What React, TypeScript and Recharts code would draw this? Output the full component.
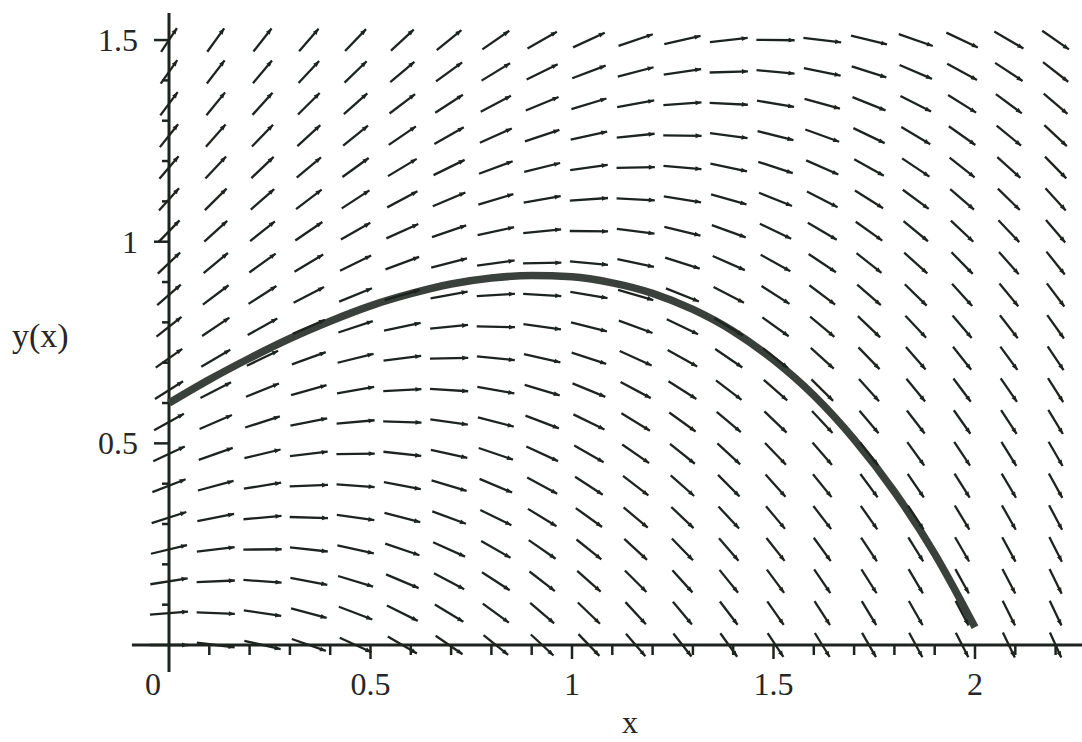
import React from "react"
import { ComposedChart, Line, Scatter, XAxis, YAxis, ReferenceLine } from "recharts"

// direction field grid (x columns, y rows)
const fieldX = [0, 0.116, 0.232, 0.347, 0.463, 0.579, 0.695, 0.811, 0.926, 1.042, 1.158, 1.274, 1.389, 1.505, 1.621, 1.737, 1.853, 1.968, 2.084, 2.2]
const fieldY = [0, 0.079, 0.158, 0.237, 0.316, 0.395, 0.474, 0.553, 0.632, 0.711, 0.789, 0.868, 0.947, 1.026, 1.105, 1.184, 1.263, 1.342, 1.421, 1.5]

// slope of each arrow, one row per fieldY value
const fieldSlopes = [
  [0, -0.12, -0.23, -0.35, -0.46, -0.58, -0.69, -0.81, -0.93, -1.04, -1.16, -1.27, -1.39, -1.51, -1.62, -1.74, -1.85, -1.97, -2.08, -2.2],
  [0.08, -0.04, -0.15, -0.27, -0.38, -0.5, -0.61, -0.73, -0.85, -0.96, -1.08, -1.19, -1.31, -1.43, -1.54, -1.66, -1.77, -1.89, -2.0, -2.12],
  [0.16, 0.04, -0.07, -0.19, -0.3, -0.42, -0.53, -0.65, -0.77, -0.88, -1.0, -1.11, -1.23, -1.35, -1.46, -1.58, -1.69, -1.81, -1.92, -2.04],
  [0.24, 0.12, 0.01, -0.11, -0.22, -0.34, -0.45, -0.57, -0.69, -0.8, -0.92, -1.03, -1.15, -1.27, -1.38, -1.5, -1.61, -1.73, -1.84, -1.96],
  [0.32, 0.2, 0.09, -0.03, -0.14, -0.26, -0.37, -0.49, -0.61, -0.72, -0.84, -0.95, -1.07, -1.19, -1.3, -1.42, -1.53, -1.65, -1.76, -1.88],
  [0.39, 0.27, 0.16, 0.04, -0.07, -0.19, -0.3, -0.42, -0.54, -0.65, -0.77, -0.88, -1.0, -1.12, -1.23, -1.35, -1.46, -1.58, -1.69, -1.81],
  [0.47, 0.35, 0.24, 0.12, 0.01, -0.11, -0.22, -0.34, -0.46, -0.57, -0.69, -0.8, -0.92, -1.04, -1.15, -1.27, -1.38, -1.5, -1.61, -1.73],
  [0.55, 0.43, 0.32, 0.2, 0.09, -0.03, -0.14, -0.26, -0.38, -0.49, -0.61, -0.72, -0.84, -0.96, -1.07, -1.19, -1.3, -1.42, -1.53, -1.65],
  [0.63, 0.51, 0.4, 0.28, 0.17, 0.05, -0.06, -0.18, -0.3, -0.41, -0.53, -0.64, -0.76, -0.88, -0.99, -1.11, -1.22, -1.34, -1.45, -1.57],
  [0.71, 0.59, 0.48, 0.36, 0.25, 0.13, 0.02, -0.1, -0.22, -0.33, -0.45, -0.56, -0.68, -0.8, -0.91, -1.03, -1.14, -1.26, -1.37, -1.49],
  [0.79, 0.67, 0.56, 0.44, 0.33, 0.21, 0.1, -0.02, -0.14, -0.25, -0.37, -0.48, -0.6, -0.72, -0.83, -0.95, -1.06, -1.18, -1.29, -1.41],
  [0.87, 0.75, 0.64, 0.52, 0.41, 0.29, 0.18, 0.06, -0.06, -0.17, -0.29, -0.4, -0.52, -0.64, -0.75, -0.87, -0.98, -1.1, -1.21, -1.33],
  [0.95, 0.83, 0.72, 0.6, 0.49, 0.37, 0.26, 0.14, 0.02, -0.09, -0.21, -0.32, -0.44, -0.56, -0.67, -0.79, -0.9, -1.02, -1.13, -1.25],
  [1.03, 0.91, 0.8, 0.68, 0.57, 0.45, 0.34, 0.22, 0.1, -0.01, -0.13, -0.24, -0.36, -0.48, -0.59, -0.71, -0.82, -0.94, -1.05, -1.17],
  [1.11, 0.99, 0.88, 0.76, 0.65, 0.53, 0.42, 0.3, 0.18, 0.07, -0.05, -0.16, -0.28, -0.4, -0.51, -0.63, -0.74, -0.86, -0.97, -1.09],
  [1.18, 1.06, 0.95, 0.83, 0.72, 0.6, 0.49, 0.37, 0.25, 0.14, 0.02, -0.09, -0.21, -0.33, -0.44, -0.56, -0.67, -0.79, -0.9, -1.02],
  [1.26, 1.14, 1.03, 0.91, 0.8, 0.68, 0.57, 0.45, 0.33, 0.22, 0.1, -0.01, -0.13, -0.25, -0.36, -0.48, -0.59, -0.71, -0.82, -0.94],
  [1.34, 1.22, 1.11, 0.99, 0.88, 0.76, 0.65, 0.53, 0.41, 0.3, 0.18, 0.07, -0.05, -0.17, -0.28, -0.4, -0.51, -0.63, -0.74, -0.86],
  [1.42, 1.3, 1.19, 1.07, 0.96, 0.84, 0.73, 0.61, 0.49, 0.38, 0.26, 0.15, 0.03, -0.09, -0.2, -0.32, -0.43, -0.55, -0.66, -0.78],
  [1.5, 1.38, 1.27, 1.15, 1.04, 0.92, 0.81, 0.69, 0.57, 0.46, 0.34, 0.23, 0.11, -0.01, -0.12, -0.24, -0.35, -0.47, -0.58, -0.7],
]

// solution curve y(x)
const curveX = [0, 0.1, 0.2, 0.3, 0.4, 0.5, 0.6, 0.7, 0.8, 0.9, 1.0, 1.1, 1.2, 1.3, 1.4, 1.5, 1.6, 1.7, 1.8, 1.9, 2.0]
const curveY = [0.6, 0.658, 0.711, 0.76, 0.803, 0.841, 0.871, 0.895, 0.91, 0.916, 0.913, 0.898, 0.872, 0.832, 0.778, 0.707, 0.619, 0.51, 0.38, 0.226, 0.044]

// axis ticks
const xMinorTicks = [0.1, 0.2, 0.3, 0.4, 0.5, 0.6, 0.7, 0.8, 0.9, 1.0, 1.1, 1.2, 1.3, 1.4, 1.5, 1.6, 1.7, 1.8, 1.9, 2.0, 2.1, 2.2]
const yMinorTicks = [0.1, 0.2, 0.3, 0.4, 0.5, 0.6, 0.7, 0.8, 0.9, 1.0, 1.1, 1.2, 1.3, 1.4, 1.5]
const xTickValues = [0, 0.5, 1, 1.5, 2]
const xTickLabels = ["0", "0.5", "1", "1.5", "2"]
const yTickValues = [0.5, 1, 1.5]
const yTickLabels = ["0.5", "1", "1.5"]

const W = 1082
const H = 742
const INK = "#1d231f"
const TEXT = "#262626"
const FONT = "'Liberation Serif', 'Times New Roman', serif"
// pixel spacing of the field grid, used to size arrows like the original
const GX = 46.7
const GY = 31.8
const ARROW = 0.82

const fieldData = fieldY.flatMap((y, j) => fieldX.map((x, i) => ({ x, y, s: fieldSlopes[j][i] })))
const curveData = curveX.map((x, i) => ({ x, y: curveY[i] }))
const xTickData = xMinorTicks.map((x) => ({ x, y: 0, major: xTickValues.includes(x) }))
const yTickData = yMinorTicks.map((y) => ({ x: 0, y, major: yTickValues.includes(y) }))
const xLabelData = xTickValues.map((x, i) => ({ x, y: 0, label: xTickLabels[i] }))
const yLabelData = yTickValues.map((y, i) => ({ x: 0, y, label: yTickLabels[i] }))

function FieldArrow(props: any) {
  const { cx, cy, payload } = props
  if (cx == null || cy == null) return null
  const s = payload.s
  const t = ARROW / Math.sqrt(1 / (GX * GX) + (s * s) / (GY * GY))
  const dx = t / 2
  const dy = (-s * t) / 2
  const x1 = cx - dx, y1 = cy - dy, x2 = cx + dx, y2 = cy + dy
  const len = Math.hypot(x2 - x1, y2 - y1)
  const ux = (x2 - x1) / len, uy = (y2 - y1) / len
  const bx = x2 - ux * 6, by = y2 - uy * 6
  const nx = -uy * 2.4, ny = ux * 2.4
  return (
    <g>
      <line x1={x1} y1={y1} x2={x2} y2={y2} stroke={INK} strokeWidth={2.3} />
      <polygon points={`${x2},${y2} ${bx + nx},${by + ny} ${bx - nx},${by - ny}`} fill={INK} />
    </g>
  )
}

function XTick(props: any) {
  const { cx, cy, payload } = props
  if (cx == null) return null
  return <line x1={cx} y1={cy} x2={cx} y2={cy + (payload.major ? 14 : 10)} stroke={INK} strokeWidth={2.5} />
}

function YTick(props: any) {
  const { cx, cy, payload } = props
  if (cx == null) return null
  return <line x1={cx} y1={cy} x2={cx - (payload.major ? 15 : 7)} y2={cy} stroke={INK} strokeWidth={2.5} />
}

function XLabel(props: any) {
  const { cx, cy, payload } = props
  if (cx == null) return null
  const shift = payload.x === 0 ? -16 : 0
  return (
    <text x={cx + shift} y={cy + 50} textAnchor="middle" fontFamily={FONT} fontSize={32} fill={TEXT}>
      {payload.label}
    </text>
  )
}

function YLabel(props: any) {
  const { cx, cy, payload } = props
  if (cx == null) return null
  return (
    <text x={cx - 31} y={cy + 11} textAnchor="end" fontFamily={FONT} fontSize={32} fill={TEXT}>
      {payload.label}
    </text>
  )
}

export default function App() {
  return (
    <div style={{ position: "absolute", left: 0, top: 0, width: W, height: H, background: "#fff", overflow: "hidden" }}>
      <ComposedChart width={W} height={H} margin={{ top: 0, right: 0, bottom: 0, left: 0 }}>
        <XAxis type="number" dataKey="x" domain={[-0.41935, 2.26551]} hide allowDataOverflow />
        <YAxis type="number" dataKey="y" domain={[-0.24052, 1.59931]} hide allowDataOverflow />

        <ReferenceLine segment={[{ x: -0.092, y: 0 }, { x: 2.2655, y: 0 }]} stroke={INK} strokeWidth={3} ifOverflow="visible" />
        <ReferenceLine segment={[{ x: 0, y: -0.067 }, { x: 0, y: 1.567 }]} stroke={INK} strokeWidth={3} ifOverflow="visible" />

        <Scatter data={xTickData} dataKey="y" shape={XTick} isAnimationActive={false} />
        <Scatter data={yTickData} dataKey="y" shape={YTick} isAnimationActive={false} />
        <Scatter data={xLabelData} dataKey="y" shape={XLabel} isAnimationActive={false} />
        <Scatter data={yLabelData} dataKey="y" shape={YLabel} isAnimationActive={false} />

        {/* direction field */}
        <Scatter data={fieldData} dataKey="y" shape={FieldArrow} isAnimationActive={false} />

        {/* solution through y(0) = 0.6 */}
        <Line
          data={curveData}
          dataKey="y"
          type="monotone"
          stroke="#3a403c"
          strokeWidth={7.5}
          dot={false}
          activeDot={false}
          isAnimationActive={false}
        />
      </ComposedChart>
      <div style={{ position: "absolute", left: 12, top: 318, fontFamily: FONT, fontSize: 34, color: TEXT, lineHeight: "36px" }}>
        y(x)
      </div>
      <div style={{ position: "absolute", left: 622, top: 706, fontFamily: FONT, fontSize: 32, color: TEXT, lineHeight: "32px" }}>
        x
      </div>
    </div>
  )
}
